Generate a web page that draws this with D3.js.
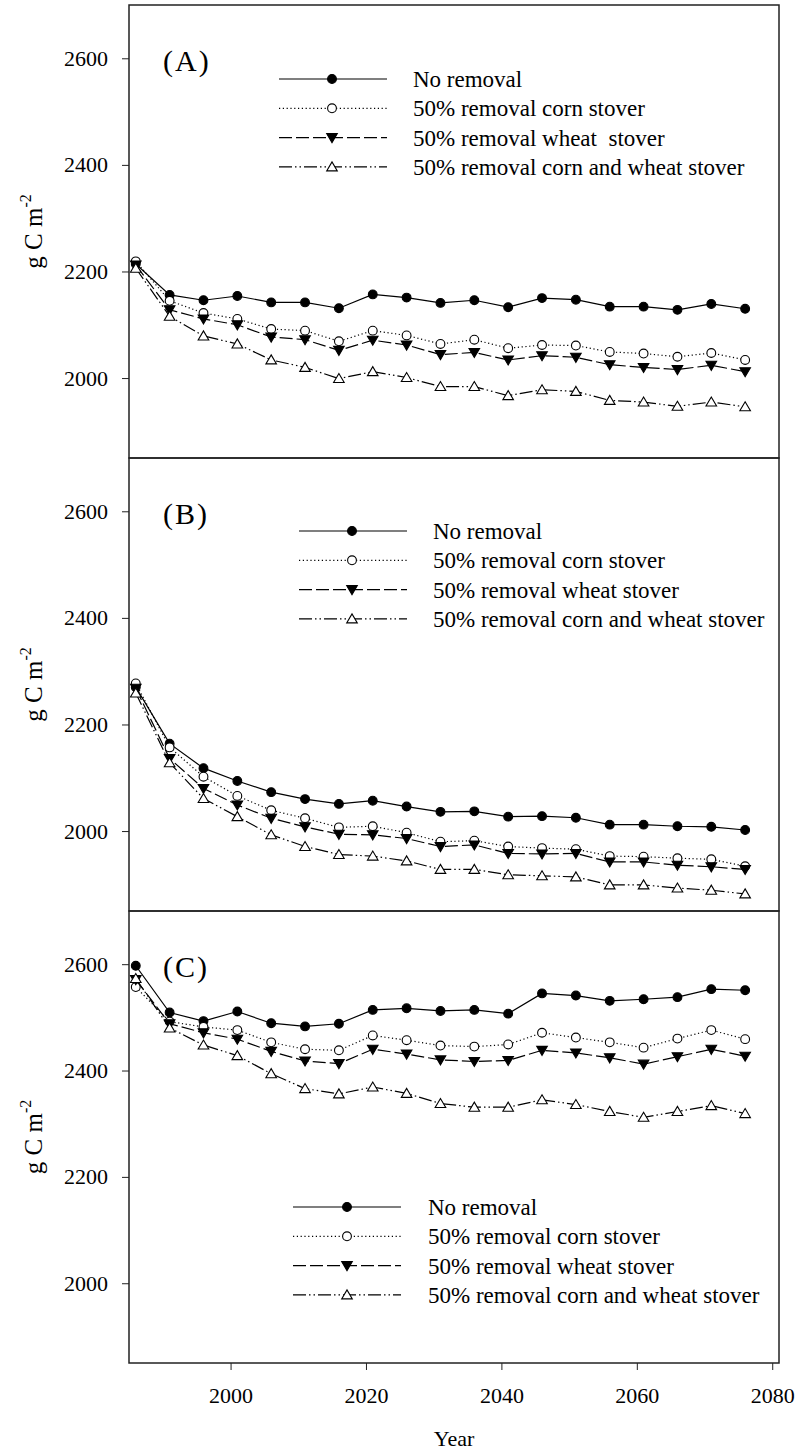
<!DOCTYPE html>
<html>
<head>
<meta charset="utf-8">
<script src="https://cdn.jsdelivr.net/npm/d3@7"></script>
<style>
  body { margin: 0; background: #fff; }
  text { font-family: "Liberation Serif", "Times New Roman", serif; fill: #000; }
</style>
</head>
<body>
<div id="plot"></div>
<script>
// soil C under stover removal scenarios, three sites

const FONT = "'Liberation Serif', 'Times New Roman', serif";

const YEARS = [1986, 1991, 1996, 2001, 2006, 2011, 2016, 2021, 2026, 2031,
               2036, 2041, 2046, 2051, 2056, 2061, 2066, 2071, 2076];

const SERIES_NAMES = ["No removal", "50% removal corn stover",
                      "50% removal wheat stover", "50% removal corn and wheat stover"];
const SERIES_NAMES_A = ["No removal", "50% removal corn stover",
                        "50% removal wheat  stover", "50% removal corn and wheat stover"];
const PANEL_LABELS = ["(A)", "(B)", "(C)"];

const Y_TICKS = [2000, 2200, 2400, 2600];
const X_TICKS = [2000, 2020, 2040, 2060, 2080];

// panel A
const A_none  = [2214, 2156, 2146, 2154, 2142, 2142, 2131, 2157, 2151, 2141, 2146, 2133, 2150, 2147, 2134, 2134, 2128, 2139, 2130];
const A_corn  = [2219, 2145, 2122, 2111, 2092, 2089, 2069, 2089, 2080, 2064, 2072, 2056, 2062, 2061, 2049, 2046, 2040, 2047, 2034];
const A_wheat = [2212, 2128, 2111, 2100, 2077, 2072, 2052, 2071, 2062, 2044, 2048, 2034, 2042, 2039, 2025, 2020, 2016, 2024, 2012];
const A_both  = [2206, 2116, 2079, 2064, 2034, 2020, 1999, 2012, 2001, 1984, 1984, 1967, 1978, 1975, 1958, 1955, 1947, 1955, 1946];

// panel B
const B_none  = [2270, 2164, 2118, 2094, 2073, 2060, 2051, 2057, 2046, 2036, 2037, 2027, 2028, 2025, 2012, 2012, 2009, 2008, 2002];
const B_corn  = [2277, 2157, 2102, 2066, 2039, 2024, 2007, 2009, 1997, 1980, 1982, 1971, 1968, 1966, 1953, 1952, 1949, 1947, 1934];
const B_wheat = [2268, 2136, 2080, 2049, 2024, 2008, 1994, 1993, 1986, 1971, 1974, 1958, 1957, 1958, 1942, 1942, 1936, 1933, 1928];
const B_both  = [2259, 2128, 2061, 2027, 1993, 1971, 1956, 1953, 1944, 1928, 1928, 1918, 1916, 1914, 1899, 1899, 1893, 1889, 1882];

// panel C
const C_none  = [2597, 2509, 2493, 2511, 2489, 2483, 2488, 2514, 2517, 2512, 2514, 2507, 2545, 2541, 2531, 2534, 2538, 2553, 2551];
const C_corn  = [2557, 2492, 2482, 2476, 2453, 2440, 2438, 2466, 2457, 2447, 2445, 2449, 2471, 2462, 2453, 2443, 2460, 2476, 2459];
const C_wheat = [2571, 2488, 2471, 2459, 2436, 2418, 2413, 2440, 2431, 2420, 2417, 2419, 2438, 2433, 2424, 2412, 2426, 2440, 2427];
const C_both  = [2573, 2480, 2448, 2428, 2394, 2366, 2356, 2369, 2357, 2338, 2331, 2331, 2345, 2336, 2323, 2312, 2323, 2334, 2319];

const WIDTH = 801;
const HEIGHT = 1454;
const LEFT = 129;
const RIGHT = 779;

// line style + marker for each series (same order as SERIES_NAMES)
const STYLES = [
  { dash: null,                 marker: "circle",  fill: "#000" },
  { dash: "1.2,2.6",            marker: "circle",  fill: "#fff" },
  { dash: "13,4",               marker: "down",    fill: "#000" },
  { dash: "13,3,1.5,3,1.5,3",   marker: "up",      fill: "#fff" }
];

const PANELS = [
  { label: PANEL_LABELS[0], top: 5,   bottom: 458,  names: SERIES_NAMES_A,
    data: [A_none, A_corn, A_wheat, A_both],
    legend: { x0: 279, x1: 387, mx: 332, tx: 413, y: 79 } },
  { label: PANEL_LABELS[1], top: 458, bottom: 911,  names: SERIES_NAMES,
    data: [B_none, B_corn, B_wheat, B_both],
    legend: { x0: 299, x1: 407, mx: 352, tx: 433, y: 531 } },
  { label: PANEL_LABELS[2], top: 911, bottom: 1363, names: SERIES_NAMES,
    data: [C_none, C_corn, C_wheat, C_both],
    legend: { x0: 293, x1: 401, mx: 347, tx: 428, y: 1207 } }
];

const SVG = d3.select("#plot")
  .append("svg")
    .attr("width", WIDTH)
    .attr("height", HEIGHT);

const x = d3.scaleLinear().domain([1985, 2081]).range([LEFT, RIGHT]);

// draw one marker at px, py
function add_marker(g, kind, fill, px, py) {
  if (kind == "circle") {
    g.append("circle")
      .attr("cx", px).attr("cy", py).attr("r", 4.4)
      .attr("fill", fill).attr("stroke", "#000").attr("stroke-width", 1.1);
  } else {
    let s = 5.3;
    let pts;
    if (kind == "down") {
      pts = [[px - s, py - s * 0.75], [px + s, py - s * 0.75], [px, py + s * 0.95]];
    } else {
      pts = [[px - s, py + s * 0.75], [px + s, py + s * 0.75], [px, py - s * 0.95]];
    }
    g.append("path")
      .attr("d", "M" + pts.map(p => p.join(",")).join("L") + "Z")
      .attr("fill", fill).attr("stroke", "#000").attr("stroke-width", 1.1);
  }
}

PANELS.forEach(function(p, pi) {

  const y = d3.scaleLinear().domain([1850, 2700]).range([p.bottom, p.top]);
  const g = SVG.append("g");

  // y axis
  const yAxis = g.append("g")
    .attr("transform", "translate(" + LEFT + ",0)")
    .call(d3.axisLeft(y).tickValues(Y_TICKS).tickSize(7).tickPadding(14).tickFormat(d3.format("d")));
  yAxis.attr("font-family", null).attr("font-size", null);
  yAxis.select(".domain").remove();
  yAxis.selectAll("line").attr("stroke", "#222");
  yAxis.selectAll("text").style("font-family", FONT).style("font-size", "22px");

  // x axis only on the last panel
  if (pi == PANELS.length - 1) {
    const xAxis = g.append("g")
      .attr("transform", "translate(0," + p.bottom + ")")
      .call(d3.axisBottom(x).tickValues(X_TICKS).tickSize(7).tickPadding(17).tickFormat(d3.format("d")));
    xAxis.attr("font-family", null).attr("font-size", null);
    xAxis.select(".domain").remove();
    xAxis.selectAll("line").attr("stroke", "#222");
    xAxis.selectAll("text").style("font-family", FONT).style("font-size", "22px");
  }

  // y label
  const yl = g.append("text")
    .attr("transform", "translate(42," + ((p.top + p.bottom) / 2) + ") rotate(-90)")
    .attr("text-anchor", "middle")
    .style("font-size", "25px");
  yl.append("tspan").text("g C m");
  yl.append("tspan").style("font-size", "16px").attr("dy", -11).text("-2");

  // panel letter
  g.append("text")
    .attr("x", 163)
    .attr("y", p.top + 66)
    .style("font-size", "30px")
    .attr("letter-spacing", 2)
    .text(p.label);

  // series
  p.data.forEach(function(vals, si) {
    const st = STYLES[si];
    const line = d3.line()
      .x((d, i) => x(YEARS[i]))
      .y(d => y(d));
    g.append("path")
      .datum(vals)
      .attr("d", line)
      .attr("fill", "none")
      .attr("stroke", "#000")
      .attr("stroke-width", 1.2)
      .attr("stroke-dasharray", st.dash);
    vals.forEach(function(v, i) {
      add_marker(g, st.marker, st.fill, x(YEARS[i]), y(v));
    });
  });

  // legend
  const L = p.legend;
  p.names.forEach(function(name, si) {
    const st = STYLES[si];
    const ly = L.y + si * 29.3;
    g.append("line")
      .attr("x1", L.x0).attr("x2", L.x1)
      .attr("y1", ly).attr("y2", ly)
      .attr("stroke", "#000").attr("stroke-width", 1.2)
      .attr("stroke-dasharray", st.dash);
    add_marker(g, st.marker, st.fill, L.mx, ly);
    g.append("text")
      .attr("x", L.tx)
      .attr("y", ly + 8)
      .style("font-size", "23px")
      .style("white-space", "pre")
      .text(name);
  });

  // frame
  g.append("rect")
    .attr("x", LEFT).attr("y", p.top)
    .attr("width", RIGHT - LEFT).attr("height", p.bottom - p.top)
    .attr("fill", "none")
    .attr("stroke", "#222")
    .attr("stroke-width", 1.5);
});

// x label
SVG.append("text")
  .attr("x", (LEFT + RIGHT) / 2)
  .attr("y", 1446)
  .attr("text-anchor", "middle")
  .style("font-size", "22px")
  .text("Year");
</script>
</body>
</html>
